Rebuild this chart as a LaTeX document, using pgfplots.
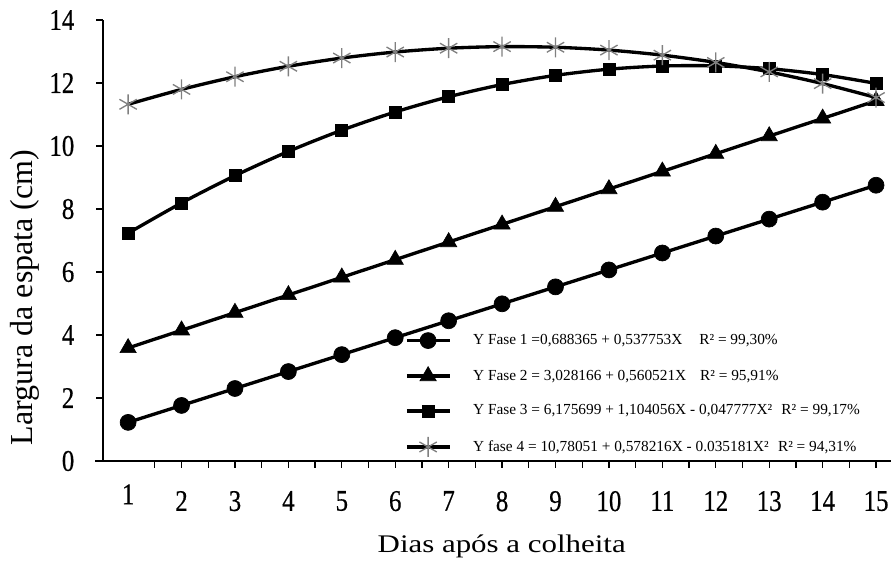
\documentclass[border=0pt]{standalone}
\usepackage{fontspec}
\setmainfont{Liberation Serif}
\newfontfamily\tickfont[FakeStretch=0.83, FakeBold=0.5]{Liberation Serif}
\newfontfamily\xlabfont[FakeStretch=1.22]{Liberation Serif}
\usepackage{pgfplots}
\pgfplotsset{compat=1.18}
\usepackage{pgfplotstable}

% Largura da espata (cm) por dia, valores ajustados de cada fase
\pgfplotstableread{
x  f1      f2       f3       f4
1  1.2261  3.5887   7.2320   11.3235
2  1.7639  4.1492   8.1927   11.7962
3  2.3016  4.7097   9.0579   12.1985
4  2.8394  5.2703   9.8275   12.5305
5  3.3771  5.8308   10.5016  12.7921
6  3.9149  6.3913   11.0801  12.9833
7  4.4526  6.9518   11.5630  13.1042
8  4.9904  7.5123   11.9504  13.1547
9  5.5281  8.0729   12.2423  13.1348
10 6.0659  8.6334   12.4386  13.0446
11 6.6036  9.1939   12.5393  12.8840
12 7.1414  9.7544   12.5445  12.6530
13 7.6792  10.3149  12.4541  12.3517
14 8.2169  10.8755  12.2682  11.9801
15 8.7547  11.4360  11.9867  11.5380
}\largura

\begin{document}
\begin{tikzpicture}
\begin{axis}[
  at={(0,0)}, anchor=south west,
  scale only axis, width=591pt, height=330.75pt,
  xmin=0.53, xmax=15.28, ymin=0, ymax=14,
  axis x line=bottom, axis y line=left,
  axis line style={-},
  x axis line style={line width=1.5pt},
  y axis line style={line width=0.75pt},
  tick align=outside,
  xtick={2,...,15},
  extra x ticks={1},
  extra x tick style={major tick length=0pt},
  minor xtick={1.5,2.5,...,14.5},
  ytick={0,2,...,14},
  major tick length=5pt, minor tick length=5pt,
  every tick/.style={black, line width=1pt},
  /pgf/number format/assume math mode=true,
  ticklabel style={font=\tickfont\fontsize{22.5}{24}\selectfont},
  xticklabel style={yshift=-14pt},
  yticklabel style={xshift=-13pt},
  xlabel={Dias após a colheita},
  ylabel={Largura da espata (cm)},
  xlabel style={font=\xlabfont\fontsize{19}{22}\selectfont, at={(axis description cs:0.506,-0.193)}, anchor=center},
  ylabel style={font=\fontsize{24}{26}\selectfont, at={(axis description cs:-0.099,0.371)}, anchor=center},
  clip=false,
  legend cell align=left,
  legend style={draw=none, fill=none, at={(axis cs:6.18,4.11)}, anchor=north west,
    inner sep=0pt, row sep=13pt, font=\fontsize{11.5}{13}\selectfont,
    /tikz/every odd column/.append style={column sep=14.5pt}},
  legend image code/.code={%
    \draw[mark repeat=2, mark phase=2, #1] plot coordinates {(0pt,0pt) (16pt,0pt) (32pt,0pt)};},
  every axis plot/.append style={line width=2.5pt, black, smooth},
]
\addplot[mark=*, mark size=6pt, mark options={solid, line width=0.5pt}] table[x=x, y=f1] {\largura};
\addlegendentry{Y Fase 1 =0,688365 + 0,537753X\hspace{1.1em}R² = 99,30\%}
\addplot[mark=triangle*, mark size=7pt, mark options={solid, line width=0.5pt}] table[x=x, y=f2] {\largura};
\addlegendentry{Y Fase 2 = 3,028166 + 0,560521X\hspace{0.9em}R² = 95,91\%}
\addplot[mark=square*, mark size=4.5pt, mark options={solid, line width=0.5pt}] table[x=x, y=f3] {\largura};
\addlegendentry{Y Fase 3 = 6,175699 + 1,104056X - 0,047777X²\hspace{0.6em}R² = 99,17\%}
\addplot[mark=asterisk, mark size=7.5pt, mark options={solid, gray, line width=1pt}] table[x=x, y=f4] {\largura};
\addlegendentry{Y fase 4 = 10,78051 + 0,578216X - 0.035181X²\hspace{0.6em}R² = 94,31\%}
\draw[line width=1.5pt] (rel axis cs:0,0) -- ++(-6pt,0pt);
\end{axis}
\pgfresetboundingbox
\path[use as bounding box] (-77.25pt,-75pt) rectangle (591pt,345.75pt);
\end{tikzpicture}
\end{document}
